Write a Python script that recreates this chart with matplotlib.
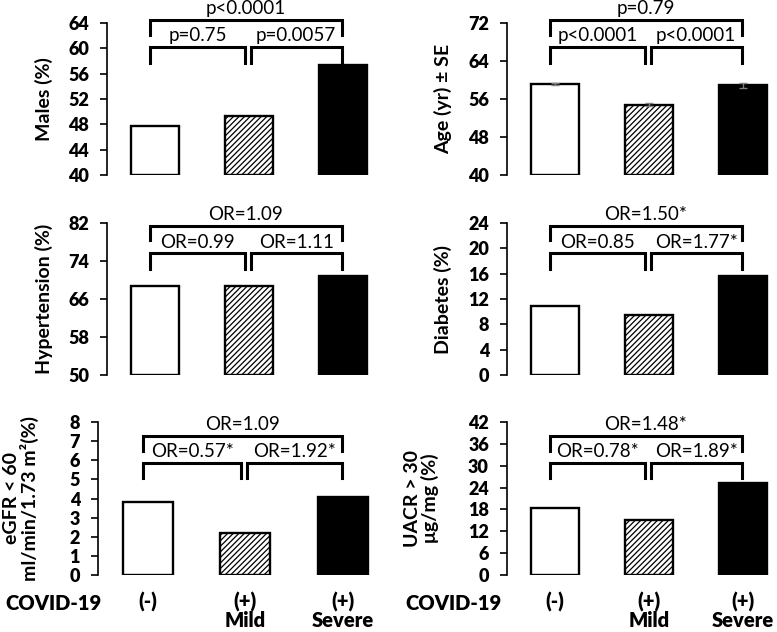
import numpy as np
import matplotlib
matplotlib.use("Agg")
import matplotlib.pyplot as plt
import matplotlib.transforms as mtransforms

plt.rcParams['font.family'] = ['Lato', 'DejaVu Sans']
plt.rcParams['hatch.linewidth'] = 0.9

# ------------------------------------------------------------
# Data
# ------------------------------------------------------------
groups = ["(-)", "(+)\nMild", "(+)\nSevere"]

males = [47.8, 49.3, 57.3]
age = [59.2, 54.8, 58.9]
age_se = [0.2, 0.3, 0.5]
hypertension = [68.7, 68.7, 70.8]
diabetes = [10.9, 9.4, 15.6]
egfr = [3.8, 2.2, 4.1]
uacr = [18.3, 15.1, 25.3]

males_stats = ["p=0.75", "p=0.0057", "p<0.0001"]
age_stats = ["p<0.0001", "p<0.0001", "p=0.79"]
hyp_stats = ["OR=0.99", "OR=1.11", "OR=1.09"]
dia_stats = ["OR=0.85", "OR=1.77*", "OR=1.50*"]
egfr_stats = ["OR=0.57*", "OR=1.92*", "OR=1.09"]
uacr_stats = ["OR=0.78*", "OR=1.89*", "OR=1.48*"]

panels = [
    # values, err, stats, ylabel, ylim, ytick step
    (males, None, males_stats, "Males (%)", (40, 64), 4),
    (age, age_se, age_stats, "Age (yr) \u00b1 SE", (40, 72), 8),
    (hypertension, None, hyp_stats, "Hypertension (%)", (50, 82), 8),
    (diabetes, None, dia_stats, "Diabetes (%)", (0, 24), 4),
    (egfr, None, egfr_stats, "eGFR < 60\nml/min/1.73 m\u00b2(%)", (0, 8), 1),
    (uacr, None, uacr_stats, "UACR > 30\n\u03bcg/mg (%)", (0, 42), 6),
]

# ------------------------------------------------------------
# Layout (pixels of a 777x632 figure)
# ------------------------------------------------------------
W, H = 777, 632
# left, top, right, bottom, ylabel centre x (all px)
boxes = [
    (107, 23, 369, 175, 53), (507, 23, 769, 175, 452),
    (107, 223, 369, 375, 53), (507, 223, 769, 375, 452),
    (98, 422, 370, 575, 39), (507, 422, 769, 575, 439),
]
# bracket heights (axes fraction): lower top, lower leg, upper top, upper leg
row_brackets = [
    (0.84, 0.74, 1.02, 0.92),
    (0.80, 0.70, 0.98, 0.885),
    (0.73, 0.635, 0.91, 0.81),
]

colors = ["white", "white", "black"]
hatches = ["", "//////", ""]

fig = plt.figure(figsize=(W / 100, H / 100), dpi=100)

for i, (vals, err, stats, ylabel, ylim, step) in enumerate(panels):
    l, t, r, b, lab_x = boxes[i]
    ax = fig.add_axes([l / W, 1 - b / H, (r - l) / W, (b - t) / H])
    x = np.arange(len(vals))
    for xi, v, c, h in zip(x, vals, colors, hatches):
        ax.bar(xi, v - ylim[0], bottom=ylim[0], width=0.51, color=c,
               edgecolor="black", linewidth=1.7, hatch=h)
    if err is not None:
        ax.errorbar(x, vals, yerr=err, fmt="none", ecolor="#808080",
                    elinewidth=1, capsize=3, capthick=1)

    ax.set_xlim(-0.51, 2.28)
    ax.set_ylim(*ylim)
    yt = np.arange(ylim[0], ylim[1] + 0.01, step)
    ax.set_yticks(yt)
    ax.set_yticklabels([f"{v:g}" for v in yt], fontsize=13,
                       fontweight="heavy")
    for s in ["top", "right", "bottom"]:
        ax.spines[s].set_visible(False)
    ax.spines["left"].set_linewidth(1.2)
    ax.tick_params(axis="y", length=5, width=1.2, pad=8)

    ax.set_ylabel(ylabel, fontsize=14, fontweight="bold", linespacing=1.0)
    ax.yaxis.set_label_coords((lab_x - l) / (r - l), 0.5)

    # brackets
    lo_top, lo_leg, up_top, up_leg = row_brackets[i // 2]
    trans = mtransforms.blended_transform_factory(ax.transData, ax.transAxes)
    spans = [(-0.05, 0.96, lo_top, lo_leg),
             (1.02, 1.99, lo_top, lo_leg),
             (-0.05, 1.99, up_top, up_leg)]
    for (x0, x1, top, leg), s in zip(spans, stats):
        ax.plot([x0, x0, x1, x1], [leg, top, top, leg], color="black",
                lw=2.2, transform=trans, clip_on=False,
                solid_joinstyle="miter")
        ax.text((x0 + x1) / 2, top + 0.075, s, transform=trans,
                ha="center", va="center", fontsize=13.5)

    if i >= 4:
        ax.set_xticks(x)
        ax.set_xticklabels(groups, fontsize=14.5, fontweight="heavy",
                           linespacing=0.95)
        ax.tick_params(axis="x", length=0, pad=12)
    else:
        ax.set_xticks([])

for cx in [5, 405]:
    fig.text(cx / W, 1 - 603 / H, "COVID-19", ha="left", va="center",
             fontsize=14.5, fontweight="heavy")

fig.savefig("out.png", dpi=100)
